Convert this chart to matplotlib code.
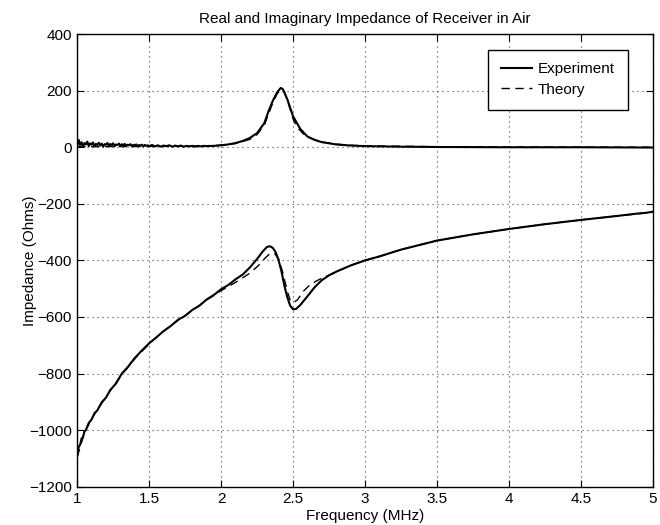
import matplotlib.pyplot as plt
import numpy as np

plt.rcParams['font.family'] = ['Liberation Sans', 'DejaVu Sans']

# Real part, experiment (noisy at low frequency)
real_exp_f = list(np.round(np.arange(1.0, 1.505, 0.01), 3)) + \
    list(np.round(np.arange(1.52, 1.905, 0.02), 3)) + [
    1.95, 2.0, 2.05, 2.1, 2.15, 2.2, 2.25, 2.3, 2.33, 2.36, 2.39, 2.415, 2.43,
    2.46, 2.5, 2.55, 2.6, 2.65, 2.7, 2.8, 2.9, 3.0, 3.25, 3.5, 4.0, 4.5, 5.0]
real_exp = [5, 26, 8, 18, 2, 15, 10, 20, 4, 14, 9, 17, 3, 12, 8, 16, 6, 13, 2, 11,
            9, 15, 5, 12, 7, 14, 3, 10, 8, 13, 4, 11, 6, 12, 5, 9, 7, 11, 3, 9,
            6, 10, 4, 8, 6, 9, 3, 8, 5, 7, 4,
            8, 3, 7, 2, 6, 4, 7, 2, 6, 3, 6, 2, 5, 3, 5, 2, 5, 3, 5, 4,
            5, 7,
            10, 15, 22, 33, 50, 85, 128, 165, 195, 210, 205,
            170, 110, 65, 38, 26, 18, 10, 6, 4, 2, 1, 0, 0, -1]

# Real part, theory
real_th_f = [1.0, 1.5, 1.8, 2.0, 2.1, 2.2, 2.25, 2.3, 2.33, 2.36, 2.39, 2.42, 2.44,
             2.47, 2.5, 2.53, 2.57, 2.62, 2.7, 2.8, 2.9, 3.0, 3.5, 4.0, 5.0]
real_th = [2, 3, 4, 7, 13, 28, 45, 78, 118, 158, 190, 205, 195,
           150, 100, 70, 48, 32, 19, 11, 7, 5, 2, 1, 0]

# Imaginary part, experiment
imag_exp_f = [1.0, 1.01, 1.02, 1.03, 1.04, 1.05, 1.06, 1.08, 1.1, 1.12, 1.14, 1.17, 1.2,
              1.23, 1.27, 1.31, 1.35, 1.4, 1.45, 1.5, 1.55, 1.6, 1.65, 1.7, 1.75, 1.8,
              1.85, 1.9, 1.95, 2.0, 2.05, 2.1, 2.15, 2.2, 2.25, 2.29, 2.32, 2.34, 2.36,
              2.38, 2.4, 2.42, 2.44, 2.46, 2.48, 2.5, 2.52, 2.55, 2.6, 2.65, 2.7, 2.75,
              2.8, 2.9, 3.0, 3.1, 3.25, 3.5, 3.75, 4.0, 4.25, 4.5, 4.75, 4.9, 4.95, 5.0]
imag_exp = [-1090, -1060, -1052, -1030, -1025, -1005, -1000, -975, -962, -940, -930, -902, -885,
            -858, -835, -800, -778, -745, -718, -693, -672, -650, -632, -610, -596, -575,
            -560, -538, -522, -502, -487, -467, -450, -425, -395, -368, -352, -350, -356,
            -372, -400, -440, -490, -530, -560, -573, -572, -558, -527, -495, -470, -453,
            -440, -418, -400, -386, -362, -330, -308, -289, -272, -257, -243, -234, -232, -228]

# Imaginary part, theory
imag_th_f = [1.0, 1.05, 1.1, 1.2, 1.3, 1.4, 1.5, 1.6, 1.7, 1.8, 1.9, 2.0, 2.1, 2.2, 2.26,
             2.3, 2.34, 2.37, 2.4, 2.43, 2.46, 2.48, 2.5, 2.53, 2.57, 2.62, 2.68, 2.75,
             2.8, 2.9, 3.0, 3.1, 3.25, 3.5, 3.75, 4.0, 4.25, 4.5, 4.75, 5.0]
imag_th = [-1095, -1010, -960, -882, -810, -748, -695, -650, -612, -577, -540, -507, -478,
           -445, -418, -395, -375, -375, -395, -445, -510, -540, -550, -540, -510, -485,
           -468, -452, -440, -418, -400, -386, -362, -330, -308, -289, -272, -257, -243, -230]

fig = plt.figure(figsize=(6.6, 5.25), dpi=100)
ax = fig.add_axes([0.117, 0.073, 0.872, 0.862])

ax.plot(real_exp_f, real_exp, color='black', lw=1.5, label='Experiment')
ax.plot(real_th_f, real_th, color='black', lw=1.0, ls=(0, (6, 4)), label='Theory')
ax.plot(imag_exp_f, imag_exp, color='black', lw=1.5)
ax.plot(imag_th_f, imag_th, color='black', lw=1.0, ls=(0, (6, 4)))

ax.set_xlim(1, 5)
ax.set_ylim(-1200, 400)
ax.set_xticks([1, 1.5, 2, 2.5, 3, 3.5, 4, 4.5, 5])
ax.set_xticklabels(['1', '1.5', '2', '2.5', '3', '3.5', '4', '4.5', '5'])
ax.set_yticks(range(-1200, 401, 200))
ax.tick_params(direction='in', top=True, right=True, labelsize=11, length=5, pad=4)
ax.grid(True, ls=(0, (1, 3.5)), color='0.25', lw=0.8)
for s in ax.spines.values():
    s.set_linewidth(1.0)

ax.set_xlabel('Frequency (MHz)', fontsize=11, labelpad=2)
ax.set_ylabel('Impedance (Ohms)', fontsize=11)
ax.yaxis.set_label_coords(-0.07, 0.5)
ax.set_title('Real and Imaginary Impedance of Receiver in Air', fontsize=11, pad=8)

leg = ax.legend(loc='upper right', bbox_to_anchor=(0.957, 0.966), fontsize=11,
                fancybox=False, framealpha=1, edgecolor='black', handlelength=2.0,
                handletextpad=0.4, labelspacing=0.4, borderpad=0.85, borderaxespad=0)
leg.get_frame().set_linewidth(1.0)

plt.savefig('out.png')
plt.close()
